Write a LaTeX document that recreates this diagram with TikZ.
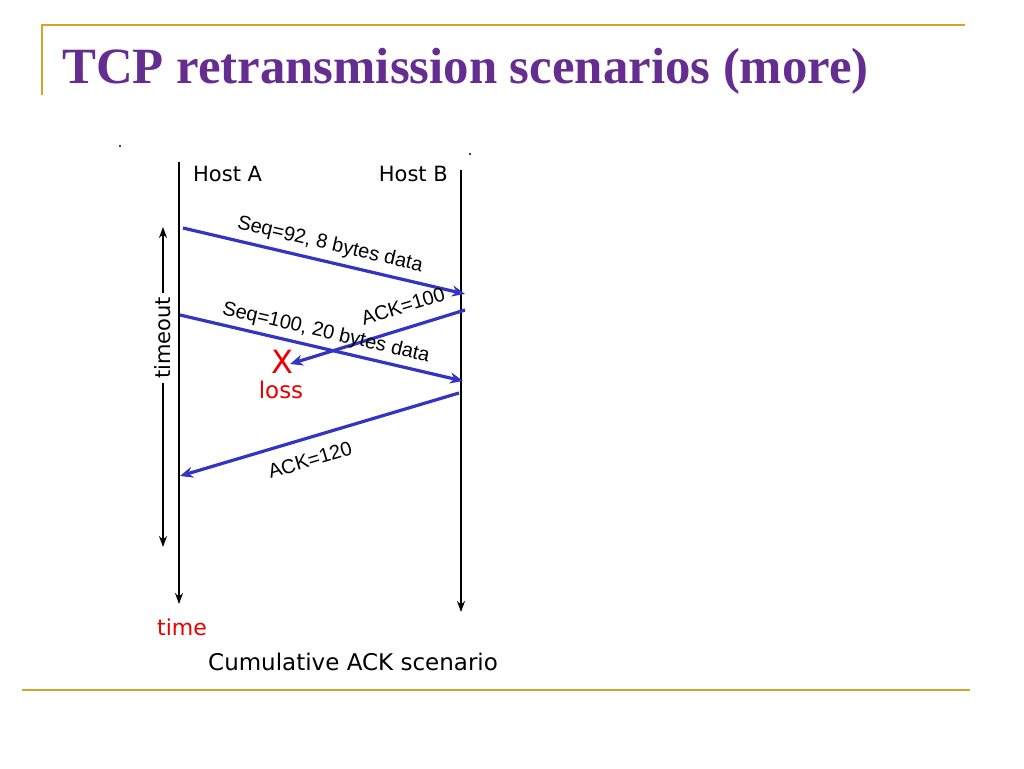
\documentclass[tikz,border=0pt]{standalone}
\usepackage{fontspec}
\setmainfont{Liberation Serif}
\newfontfamily\comicfont{DejaVu Sans}
\newfontfamily\arialfont{Liberation Sans}
\usepackage{tikz}
\usetikzlibrary{arrows.meta, positioning}
\definecolor{titlepurple}{RGB}{102,45,145}
\definecolor{rulegold}{RGB}{214,164,40}
\definecolor{msgblue}{RGB}{51,51,196}
\definecolor{lossred}{RGB}{235,0,0}

\begin{document}
\begin{tikzpicture}[x=1pt, y=-1pt,
    timeline/.style={line width=1.4pt, -{Stealth[length=11pt,width=8pt]}},
    msg/.style={line width=3.2pt, msgblue, -{Stealth[length=13pt,width=11pt]}},
    lbl/.style={font=\arialfont\fontsize{20}{22}\selectfont, inner sep=0pt},
    host/.style={font=\comicfont\fontsize{21}{24}\selectfont, inner sep=0pt},
    redlbl/.style={host, text=lossred}]

    \useasboundingbox (0,0) rectangle (1024,768);

    % slide frame and title
    \draw[rulegold, line width=2pt] (42,95) -- (42,25) -- (965,25);
    \draw[rulegold, line width=2.5pt] (22,690) -- (970,690);
    \node[anchor=base west, inner sep=0pt, text=titlepurple,
          font=\bfseries\fontsize{50.8}{56}\selectfont] (title) at (62,83)
          {TCP retransmission scenarios (more)};

    % the two hosts
    \coordinate (atop) at (179,162);
    \coordinate (abot) at (179,604);
    \coordinate (btop) at (461,170);
    \coordinate (bbot) at (461,612);
    \draw[timeline] (atop) -- (abot);
    \draw[timeline] (btop) -- (bbot);
    \fill (120,146) circle (1.2);
    \fill (470,154) circle (1.2);
    \node[host, anchor=base west] (hosta) at (193,181) {Host A};
    \node[host, anchor=base east] (hostb) at (448,181) {Host B};

    % timeout interval
    \coordinate (tup) at (163,227);
    \coordinate (tdown) at (163,547);
    \draw[line width=1.4pt, {Stealth[length=11pt,width=8pt]}-{Stealth[length=11pt,width=8pt]}] (tup) -- (tdown);
    \node[host, rotate=90, fill=white, inner sep=4pt] (timeout) at (163,338) {timeout};

    % segments
    \coordinate (s1) at (183,228);
    \coordinate (r1) at (465,294);
    \coordinate (s2) at (465,310);
    \coordinate (r2) at (290,364);
    \coordinate (s3) at (180,315);
    \coordinate (r3) at (463,381);
    \coordinate (s4) at (459,393);
    \coordinate (r4) at (180,476);
    \draw[msg] (s1) -- (r1);
    \draw[msg] (s2) -- (r2);
    \draw[msg] (s3) -- (r3);
    \draw[msg] (s4) -- (r4);

    \node[lbl, rotate=-13.2] (seqa) at (330,245) {Seq=92, 8 bytes data};
    \node[lbl, rotate=17.1] (acka) at (403,306) {ACK=100};
    \node[lbl, rotate=-13.1] (seqb) at (326,333) {Seq=100, 20 bytes data};
    \node[lbl, rotate=16.6] (ackb) at (310,460) {ACK=120};

    % loss and captions
    \node[redlbl, font=\comicfont\fontsize{32}{34}\selectfont, anchor=base] (lossx) at (282,373) {X};
    \node[redlbl, font=\comicfont\fontsize{23}{26}\selectfont, anchor=base] (loss) at (281,398) {loss};
    \node[redlbl, font=\comicfont\fontsize{22}{26}\selectfont, anchor=base] (time) at (182,635) {time};
    \node[host, font=\comicfont\fontsize{23}{26}\selectfont, anchor=base west] (caption) at (208,670) {Cumulative ACK scenario};
\end{tikzpicture}
\end{document}
